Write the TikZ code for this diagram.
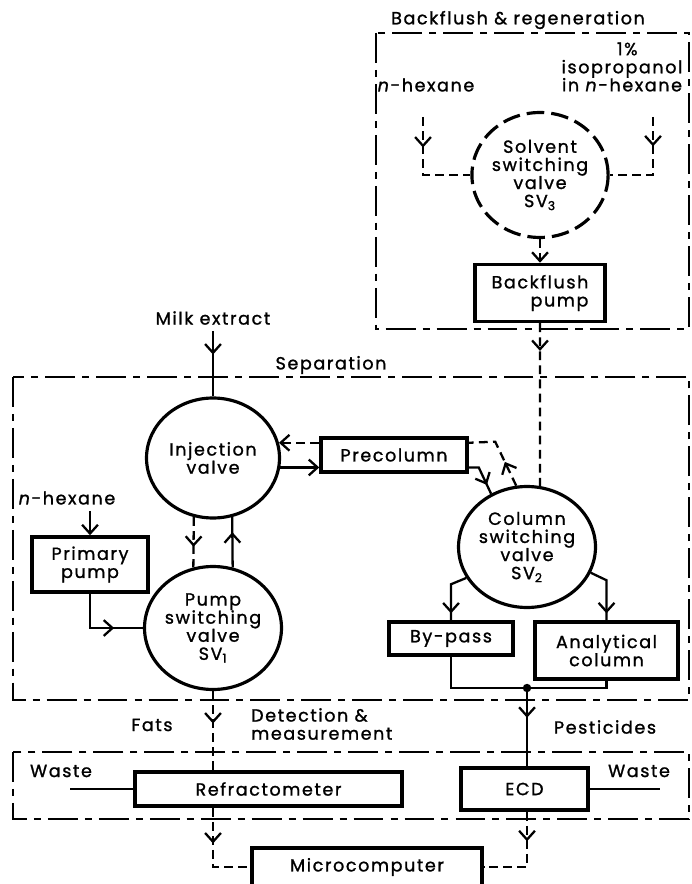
\documentclass[tikz,border=0pt]{standalone}
\usepackage{fontspec}
\setmainfont[LetterSpace=9, FakeBold=1.2]{Poppins}
\usetikzlibrary{arrows.meta,shapes.geometric,decorations.markings,calc}

\begin{document}
\begin{tikzpicture}[x=0.02cm, y=-0.02cm,
    font=\fontsize{10}{10.3}\selectfont,
    box/.style={draw, line width=2pt, inner sep=2pt, align=center},
    valve/.style={draw, ellipse, line width=1.8pt, inner sep=0pt, align=center},
    region/.style={line width=1.3pt, dash pattern=on 17pt off 4pt on 4pt off 4pt},
    pipe/.style={line width=1.3pt},
    bf/.style={dash pattern=on 5pt off 3pt},
    flow/.style={postaction={decorate}, decoration={markings,
        mark=at position #1 with {\arrow{Straight Barb[length=5pt,width=9pt]}}}},
    into/.style={-{Straight Barb[length=5pt,width=9pt]}}]
    \useasboundingbox (0,0) rectangle (691,884);
    \clip (0,0) rectangle (691,884);

    % the three regions
    \draw[region] (376,33) rectangle (689,329);
    \draw[region] (13,377) rectangle (689,700);
    \draw[region] (13,752) rectangle (689,819);
    \node (regen) at (518,20) {Backflush \& regeneration};
    \node (sep) at (331,365) {Separation};
    \node[anchor=west, align=left] (detect) at (245,724) {Detection \&\\measurement};
    \node (fats) at (152,725) {Fats};
    \node (pest) at (605,727) {Pesticides};

    % backflush & regeneration
    \node (hexA) at (426,85) {\textit{n}-hexane};
    \node[align=center] (iso) at (622,67) {\hspace*{6pt}1\%\\isopropanol\\in \textit{n}-hexane};
    \node[valve, dash pattern=on 10pt off 4pt, minimum width=2.72cm, minimum height=2.5cm]
        (sv3) at (540,175) {Solvent\\switching\\valve\\SV\textsubscript{3}};
    \node[box, align=right, minimum width=2.6cm, minimum height=1.14cm]
        (bpump) at (540,293) {Backflush\\pump};
    \coordinate (hexAin) at (423,117);
    \coordinate (isoin) at (653,117);
    \draw[pipe, bf, flow=0.29] (hexAin) |- (sv3.west);
    \draw[pipe, bf, flow=0.29] (isoin) |- (sv3.east);
    \draw[pipe, bf, into] (sv3) -- (bpump);

    % separation
    \node (milk) at (213,318) {Milk extract};
    \node[valve, minimum width=2.66cm, minimum height=2.4cm]
        (inj) at (213,458) {Injection\\valve};
    \node[box, minimum width=2.92cm, minimum height=0.68cm] (precol) at (394,455) {Precolumn};
    \node[valve, minimum width=2.74cm, minimum height=2.42cm]
        (sv2) at (527,547) {Column\\switching\\valve\\SV\textsubscript{2}};
    \node[valve, minimum width=2.74cm, minimum height=2.46cm]
        (sv1) at (213,628) {Pump\\switching\\valve\\SV\textsubscript{1}};
    \node (hexB) at (67,498) {\textit{n}-hexane};
    \node[box, minimum width=2.32cm, minimum height=1.1cm] (pp) at (90,564.5) {Primary\\pump};
    \node[box, minimum width=2.48cm, minimum height=0.66cm] (byp) at (451,638.5) {By-pass};
    \node[box, minimum width=2.86cm, minimum height=1.14cm] (anl) at (606.5,650.5) {Analytical\\column};
    \coordinate (jn) at (527,688);

    \draw[pipe, flow=0.36] (milk) -- (inj);
    \draw[pipe, bf, flow=0.17] (bpump.south) -- (sv2.78);
    \draw[pipe, bf, into] (precol.west |- inj.13) -- (inj.13);
    \draw[pipe, into] (inj.-8) -- (precol.west |- inj.-8);
    \draw[pipe, bf, flow=0.35] (sv2.100) -- ++(-21,-44) -- (precol.east |- inj.13);
    \draw[pipe, flow=0.75] (precol.east |- inj.-8) -- ++(10,0) -- (sv2.124);
    \draw[pipe, into] (hexB.south -| pp.north) -- (pp.north);
    \draw[pipe, flow=0.67] (pp.south) |- (sv1.west);
    \draw[pipe, bf, flow=0.59] (inj.252) -- (sv1.108);
    \draw[pipe, flow=0.7] (sv1.72) -- (inj.288);
    \draw[pipe, flow=0.87] (sv2.207) -- ($(byp.north)+(0,-36)$) -- (byp.north);
    \draw[pipe, flow=0.88] (sv2.-22) -- ($(anl.north)+(0,-40)$) -- (anl.north);
    \draw[pipe] (byp.south) |- (jn) -| (anl.south);
    \fill (jn) circle (2.4pt);

    % detection & measurement
    \node[box, minimum width=5.34cm, minimum height=0.68cm] (refr) at (268.5,789) {Refractometer};
    \node[box, minimum width=2.54cm, minimum height=0.84cm] (ecd) at (524.5,789) {ECD};
    \node (wasteA) at (61,771) {Waste};
    \node (wasteB) at (639,771) {Waste};
    \coordinate (wasteAend) at (70,789);
    \coordinate (wasteBend) at (660,789);
    \draw[pipe] (refr.west) -- (wasteAend);
    \draw[pipe] (ecd.east) -- (wasteBend);
    \draw[pipe, bf, flow=0.41] (sv1.south) -- (sv1.south |- refr.north);
    \draw[pipe, flow=0.38] (jn) -- (jn |- ecd.north);

    % computer
    \node[box, minimum width=4.6cm, minimum height=0.76cm] (micro) at (367,867) {Microcomputer};
    \draw[pipe, bf, flow=0.37] (sv1.south |- refr.south) |- (micro.west);
    \draw[pipe, bf, flow=0.3] (jn |- ecd.south) |- (micro.east);
\end{tikzpicture}
\end{document}
